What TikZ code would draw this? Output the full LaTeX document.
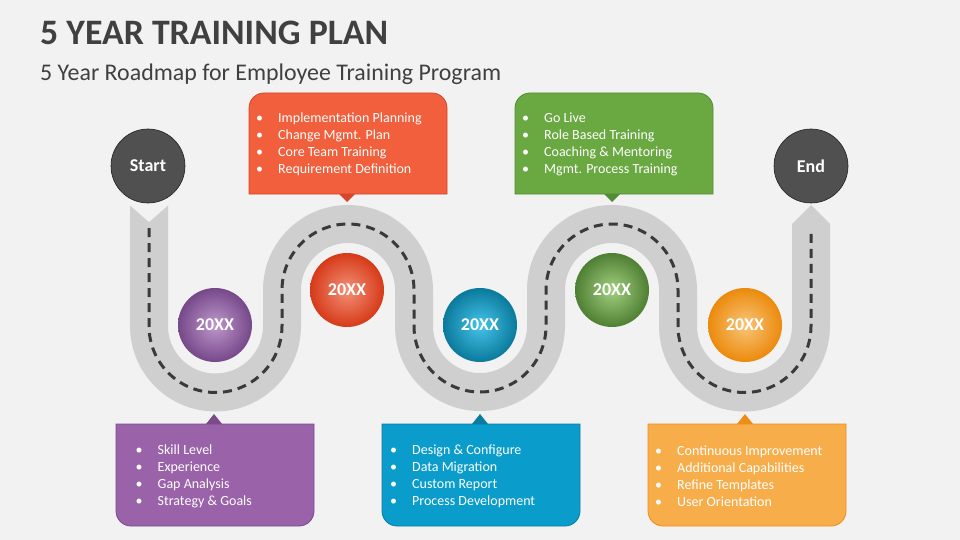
\documentclass[tikz,border=0pt]{standalone}
\usepackage{fontspec}
\setmainfont{Carlito}
\definecolor{bg}{HTML}{F2F2F2}
\definecolor{roadc}{HTML}{D0CFD0}
\definecolor{dashc}{HTML}{3A3A3A}
\definecolor{titlec}{HTML}{404040}
\definecolor{redbox}{HTML}{F15F3C}
\definecolor{redboxD}{HTML}{D8452A}
\definecolor{greenbox}{HTML}{6AA842}
\definecolor{greenboxD}{HTML}{548C34}
\definecolor{purplebox}{HTML}{9A62A8}
\definecolor{purpleboxD}{HTML}{7A4A8C}
\definecolor{tealbox}{HTML}{0A9CCA}
\definecolor{tealboxD}{HTML}{0A7CA2}
\definecolor{orangebox}{HTML}{F8AD4B}
\definecolor{orangeboxD}{HTML}{EE8E18}
\definecolor{purO}{HTML}{764889}
\definecolor{purI}{HTML}{BE98CC}
\definecolor{redO}{HTML}{D63A18}
\definecolor{redI}{HTML}{F39078}
\definecolor{tealO}{HTML}{0A7A9C}
\definecolor{tealI}{HTML}{46C4EA}
\definecolor{grnO}{HTML}{4F7F33}
\definecolor{grnI}{HTML}{A2D080}
\definecolor{orgO}{HTML}{EB8A0C}
\definecolor{orgI}{HTML}{F9C57A}
\definecolor{ballin}{HTML}{505050}
\definecolor{ballrim}{HTML}{3A3A3A}
\definecolor{balledge}{HTML}{222222}
\pgfdeclareradialshading{darkball}{\pgfpoint{0bp}{0bp}}{color(0bp)=(ballin); color(34bp)=(ballin); color(45bp)=(ballrim); color(50bp)=(balledge)}
\newcommand\bl{\makebox[22pt][l]{•}}
\newcommand\topbox[4]{%
  \draw[fill=#4, draw=#4D, line width=0.8pt] (#1,194) -- (#1,108) arc[start angle=180,end angle=270,radius=15] -- (#2-15,93) arc[start angle=270,end angle=360,radius=15] -- (#2,194) -- cycle;
  \fill[#4D] (#3-8,194) -- (#3,202) -- (#3+8,194) -- cycle;
}
\newcommand\botbox[4]{%
  \draw[fill=#4, draw=#4D, line width=0.8pt] (#1,424) -- (#1,511) arc[start angle=180,end angle=90,radius=15] -- (#2-15,526) arc[start angle=90,end angle=0,radius=15] -- (#2,424) -- cycle;
  \fill[#4D] (#3-8,424) -- (#3,414) -- (#3+8,424) -- cycle;
}
\tikzset{
  road/.style={draw=roadc, line width=38pt},
  dashline/.style={draw=dashc, line width=3pt, dash pattern=on 9pt off 6pt},
  yearc/.style 2 args={circle, minimum size=74pt, inner sep=0pt, inner color=#2, outer color=#1, text=white, font=\bfseries\fontsize{18}{18}\selectfont},
  ball/.style={circle, minimum size=74pt, inner sep=0pt, shading=darkball, draw=balledge, line width=0.6pt, text=white, font=\bfseries\fontsize{18}{18}\selectfont},
  listtxt/.style={text=white, font=\fontsize{14}{17}\selectfont, align=left, inner sep=0pt, anchor=west}
}
\begin{document}
\begin{tikzpicture}[x=1pt,y=-1pt]
\useasboundingbox (0,0) rectangle (960,540);
\fill[bg] (0,0) rectangle (960,540);
% titles
\node[anchor=base west, inner sep=0pt, text=titlec, font=\bfseries\fontsize{35.8}{36}\selectfont] (title) at (40,45) {5 YEAR TRAINING PLAN};
\node[anchor=base west, inner sep=0pt, text=titlec, font=\fontsize{23.9}{24}\selectfont] (subtitle) at (40,81) {5 Year Roadmap for Employee Training Program};
% road
\draw[road] (149,205) -- (149,326) arc[start angle=180,end angle=0,radius=66.5] -- (282,290) arc[start angle=180,end angle=360,radius=66] -- (414,326) arc[start angle=180,end angle=0,radius=66] -- (546,290) arc[start angle=180,end angle=360,radius=66] -- (678,326) arc[start angle=180,end angle=0,radius=66.5] -- (811,223.5);
\fill[bg] (129,204.5) -- (169,204.5) -- (149,222) -- cycle;
\fill[roadc] (792,224) -- (830,224) -- (811,205) -- cycle;
\draw[dashline] (149,228) -- (149,326) arc[start angle=180,end angle=0,radius=66.5] -- (282,290) arc[start angle=180,end angle=360,radius=66] -- (414,326) arc[start angle=180,end angle=0,radius=66] -- (546,290) arc[start angle=180,end angle=360,radius=66] -- (678,326) arc[start angle=180,end angle=0,radius=66.5] -- (811,233);
% start / end
\node[ball] (start) at (148,166) {Start};
\node[ball] (end) at (811,166) {End};
% year circles
\node[yearc={purO}{purI}] (y1) at (215,325) {20XX};
\node[yearc={redO}{redI}] (y2) at (347,290) {20XX};
\node[yearc={tealO}{tealI}] (y3) at (480,325) {20XX};
\node[yearc={grnO}{grnI}] (y4) at (612,290) {20XX};
\node[yearc={orgO}{orgI}] (y5) at (745,325) {20XX};
% boxes
\topbox{249}{447}{347}{redbox}
\topbox{515}{713}{612}{greenbox}
\botbox{116}{314}{214}{purplebox}
\botbox{382}{580}{480}{tealbox}
\botbox{648}{846}{745}{orangebox}
% texts
\node[listtxt] (t2) at (256,144.5) {\bl Implementation Planning\\ \bl Change Mgmt. Plan\\ \bl Core Team Training\\ \bl Requirement Definition};
\node[listtxt] (t4) at (522,144.5) {\bl Go Live\\ \bl Role Based Training\\ \bl Coaching \& Mentoring\\ \bl Mgmt. Process Training};
\node[listtxt] (t1) at (135.5,476) {\bl Skill Level\\ \bl Experience\\ \bl Gap Analysis\\ \bl Strategy \& Goals};
\node[listtxt] (t3) at (390,476) {\bl Design \& Configure\\ \bl Data Migration\\ \bl Custom Report\\ \bl Process Development};
\node[listtxt] (t5) at (655,476) {\bl Continuous Improvement\\ \bl Additional Capabilities\\ \bl Refine Templates\\ \bl User Orientation};
\end{tikzpicture}
\end{document}
